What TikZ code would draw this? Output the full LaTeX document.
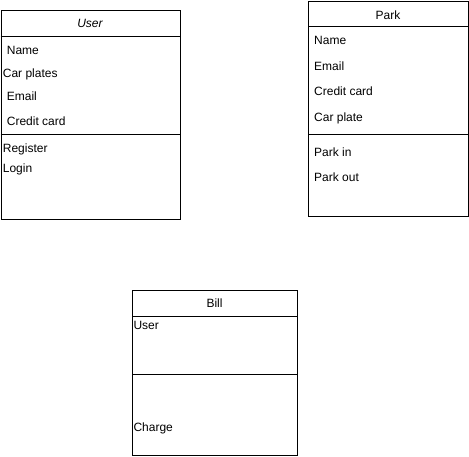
\documentclass[tikz,border=0pt]{standalone}
\usepackage{fontspec}
\setmainfont{Liberation Sans}
\usetikzlibrary{positioning}
\tikzset{
    classbox/.style = {rectangle, draw=black, line width=1pt, anchor=north west, inner sep=0pt},
    member/.style = {anchor=base west, inner sep=0pt, font=\fontsize{12}{14}\selectfont},
    classname/.style = {member, anchor=base},
    divider/.style = {draw=black, line width=1pt}
}

\begin{document}
\begin{tikzpicture}[x=1pt, y=-1pt]
    \useasboundingbox (0,0) rectangle (469,456);

    % User
    \node [classbox, minimum width=179pt, minimum height=209pt] (user) at (0.5,10) {};
    \node [classname, font=\fontsize{12}{14}\selectfont\itshape] (usertitle) at (90,27) {User};
    \node [member] (username) at (6.7,54) {Name};
    \node [member] (userplates) at (2.7,77) {Car plates};
    \node [member] (useremail) at (6.7,100) {Email};
    \node [member] (usercard) at (6.7,125) {Credit card};
    \node [member] (userregister) at (2.7,152.5) {Register};
    \node [member] (userlogin) at (2.7,172) {Login};
    \draw [divider] (user.west |- 0,36) -- (user.east |- 0,36);
    \draw [divider] (user.west |- 0,134) -- (user.east |- 0,134);

    % Park
    \node [classbox, minimum width=160pt, minimum height=215pt] (park) at (308,1) {};
    \node [classname] (parktitle) at (388,19) {Park};
    \node [member] (parkname) at (314,44) {Name};
    \node [member] (parkemail) at (314,70) {Email};
    \node [member] (parkcard) at (314,95.5) {Credit card};
    \node [member] (parkplate) at (314,121.5) {Car plate};
    \node [member] (parkin) at (314,156) {Park in};
    \node [member] (parkout) at (314,181.5) {Park out};
    \draw [divider] (park.west |- 0,26) -- (park.east |- 0,26);
    \draw [divider] (park.west |- 0,134) -- (park.east |- 0,134);

    % Bill
    \node [classbox, minimum width=165pt, minimum height=165pt] (bill) at (132,290) {};
    \node [classname] (billtitle) at (214.5,307.5) {Bill};
    \node [member] (billuser) at (133.3,329) {User};
    \node [member] (billcharge) at (133.3,431) {Charge};
    \draw [divider] (bill.west |- 0,316) -- (bill.east |- 0,316);
    \draw [divider] (bill.west |- 0,374) -- (bill.east |- 0,374);
\end{tikzpicture}
\end{document}
